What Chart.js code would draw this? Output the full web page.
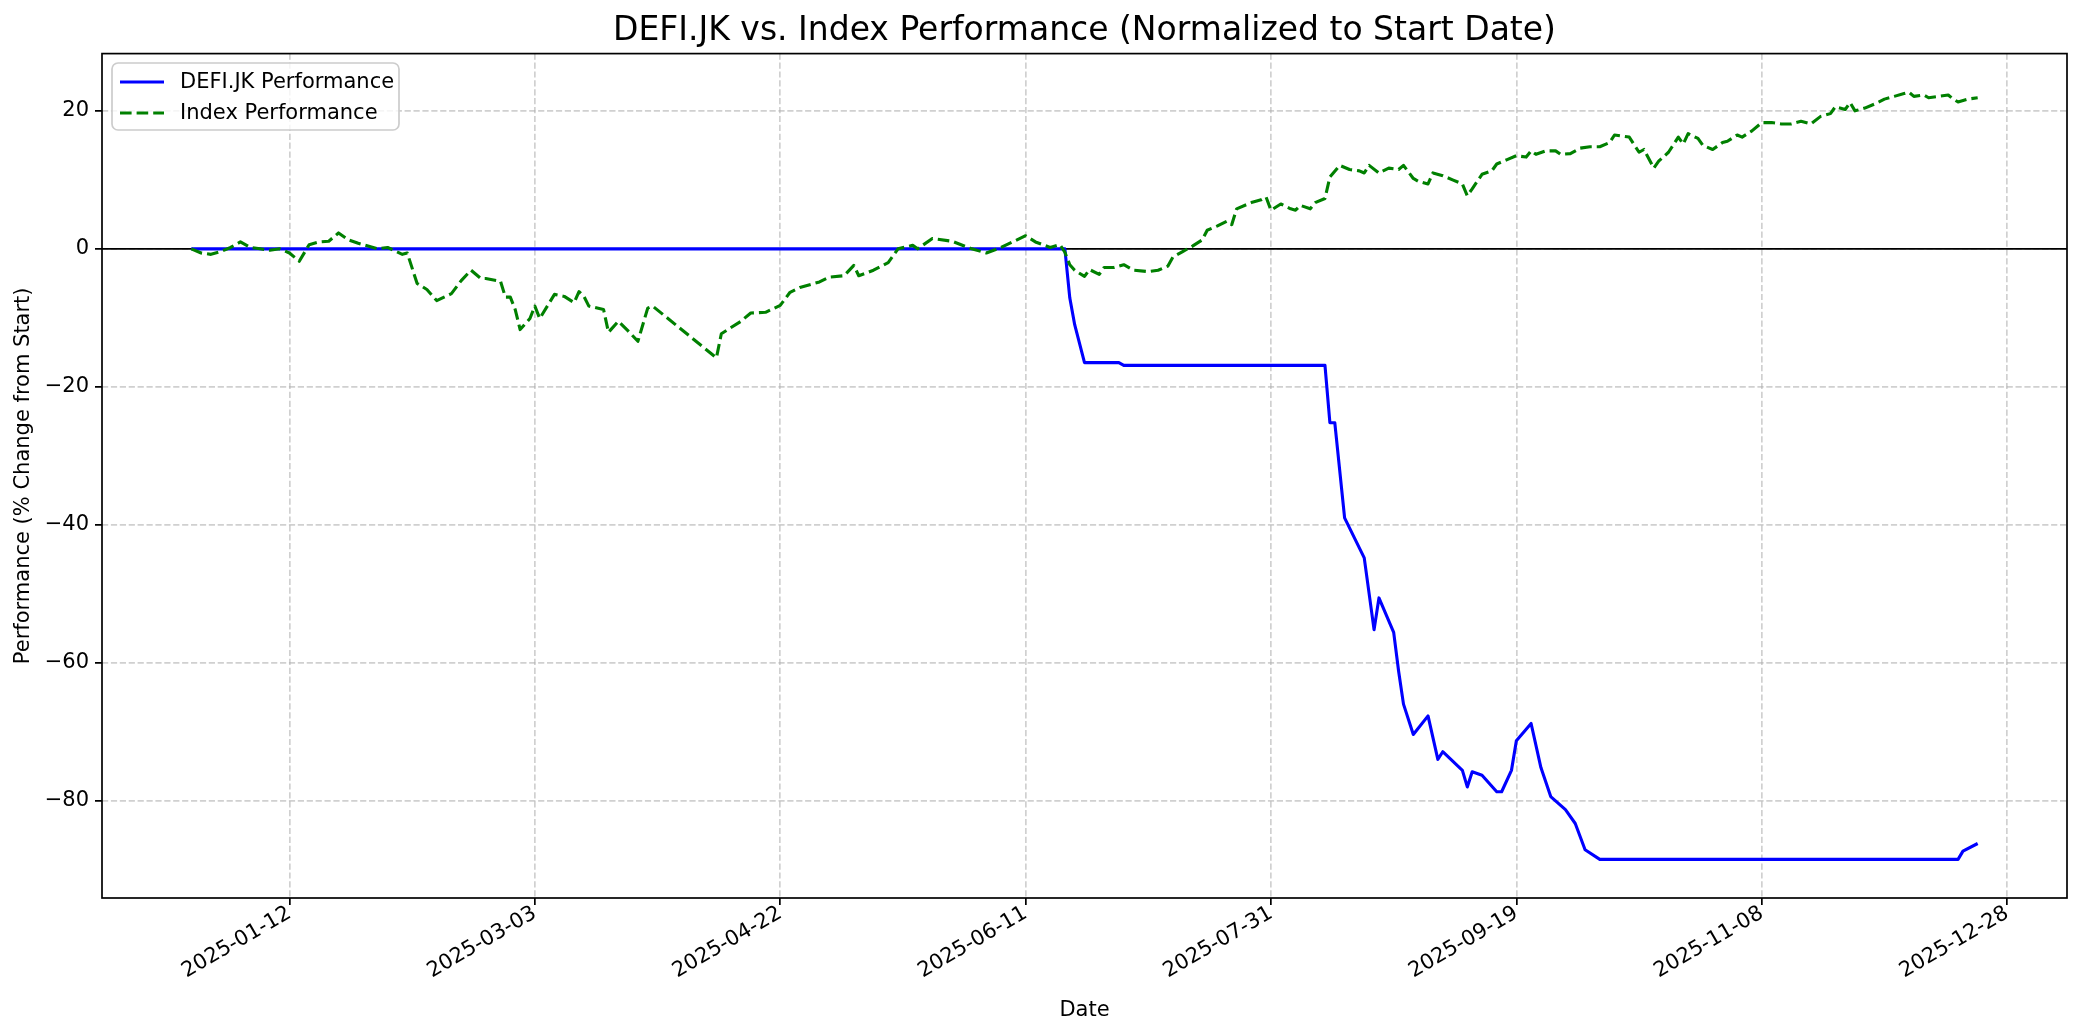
<!DOCTYPE html>
<html>
<head>
<meta charset="utf-8">
<script src="https://cdn.jsdelivr.net/npm/chart.js@4.4.1/dist/chart.umd.min.js"></script>
<style>
  body { margin: 0; background: #fff; }
  canvas { display: block; }
</style>
</head>
<body>
<canvas id="perfChart" width="2084" height="1035"></canvas>
<script>
// days counted from 2025-01-01 (negative = December 2024)
const defiDays = [-9, 169, 170, 171, 173, 180, 181, 222, 223, 224, 226, 230, 232, 233, 236, 237, 238, 240, 243, 245, 246, 250, 251, 252, 254, 257, 258, 260, 261, 264, 266, 268, 271, 273, 275, 278, 351, 352, 355];
const defiPerf = [0, 0, -7.1, -11, -16.5, -16.5, -16.9, -16.9, -25.2, -25.2, -39, -44.8, -55.2, -50.6, -55.6, -61.2, -66, -70.4, -67.7, -74, -72.9, -75.6, -78, -75.8, -76.3, -78.7, -78.7, -75.6, -71.3, -68.8, -75.2, -79.4, -81.3, -83.3, -87.1, -88.5, -88.5, -87.3, -86.2];

const indexDays = [-9, -7, -5, -3, -1, 1, 3, 5, 7, 9, 11, 13, 15, 17, 19, 21, 23, 25, 27, 29, 31, 34, 35, 37, 39, 41, 44, 46, 48, 50, 51, 54, 55, 56, 57, 58, 60, 61, 62, 65, 67, 69, 70, 71, 72, 75, 76, 78, 80, 82, 84, 85, 98, 99, 103, 105, 108, 111, 113, 115, 119, 121, 124, 126, 127, 130, 133, 135, 138, 139, 142, 146, 150, 153, 156, 161, 163, 166, 168, 169, 170, 171, 173, 174, 176, 177, 179, 181, 183, 186, 188, 190, 191, 193, 195, 197, 198, 200, 202, 203, 204, 207, 209, 210, 211, 213, 215, 216, 217, 219, 220, 222, 223, 225, 227, 229, 230, 231, 233, 235, 237, 238, 240, 241, 243, 244, 246, 248, 250, 251, 252, 254, 256, 257, 259, 261, 263, 264, 265, 267, 269, 270, 272, 274, 276, 278, 280, 281, 284, 286, 287, 289, 290, 292, 294, 295, 296, 298, 299, 301, 303, 304, 306, 307, 309, 311, 313, 315, 317, 319, 321, 323, 325, 326, 328, 329, 330, 332, 334, 336, 338, 340, 341, 342, 344, 345, 347, 349, 350, 351, 353, 355];
const indexPerf = [0, -0.6, -0.8, -0.4, 0.2, 1.0, 0.2, 0, -0.2, 0, -0.6, -1.8, 0.6, 1.0, 1.1, 2.3, 1.3, 0.8, 0.4, 0, 0.2, -0.8, -0.6, -5.0, -5.9, -7.5, -6.5, -4.6, -3.1, -4.3, -4.3, -4.7, -7.0, -7.0, -8.8, -11.7, -10.1, -8.3, -10.1, -6.6, -6.9, -7.8, -6.2, -6.9, -8.3, -8.8, -12.1, -10.5, -11.9, -13.4, -8.6, -8.3, -15.8, -12.3, -10.5, -9.3, -9.2, -8.2, -6.3, -5.6, -4.8, -4.1, -3.9, -2.4, -3.9, -3.1, -2.0, 0, 0.5, 0, 1.5, 1.1, 0, -0.6, 0.2, 1.9, 1.0, 0.2, 0.6, -0.5, -2.3, -3.1, -4.0, -3.0, -3.7, -2.7, -2.7, -2.3, -3.1, -3.3, -3.1, -2.5, -1.2, -0.4, 0.4, 1.3, 2.7, 3.3, 4.0, 3.5, 5.8, 6.7, 7.1, 7.5, 5.6, 6.5, 5.8, 5.6, 6.3, 5.8, 6.7, 7.3, 10.4, 12.1, 11.5, 11.3, 11.0, 12.1, 11.0, 11.7, 11.5, 12.1, 10.2, 9.8, 9.4, 11.0, 10.6, 10.0, 9.4, 7.7, 8.7, 10.8, 11.3, 12.3, 12.9, 13.5, 13.3, 14.2, 13.7, 14.2, 14.2, 13.7, 13.8, 14.6, 14.8, 14.8, 15.4, 16.5, 16.2, 14.0, 14.4, 11.7, 12.7, 14.0, 16.2, 15.2, 16.7, 16.0, 15.0, 14.4, 15.4, 15.6, 16.5, 16.2, 17.1, 18.3, 18.3, 18.1, 18.1, 18.5, 18.1, 19.2, 19.6, 20.6, 20.2, 21.2, 20.0, 20.4, 21.0, 21.7, 22.1, 22.5, 22.7, 22.1, 22.3, 21.9, 22.1, 22.3, 21.7, 21.3, 21.7, 21.9];

const xTickLabels = ['2025-01-12', '2025-03-03', '2025-04-22', '2025-06-11', '2025-07-31', '2025-09-19', '2025-11-08', '2025-12-28'];
const yTicks = [-80, -60, -40, -20, 0, 20];

const FONT = "'DejaVu Sans', 'Liberation Sans', sans-serif";

function dayOf(str) {
  const p = str.split('-').map(Number);
  return (Date.UTC(p[0], p[1] - 1, p[2]) - Date.UTC(2025, 0, 1)) / 86400000;
}
const xTickDays = xTickLabels.map(dayOf);

const frameAndLegend = {
  id: 'frameAndLegend',
  beforeDatasetsDraw(chart) {
    const { ctx, chartArea: a, scales } = chart;
    const y0 = scales.y.getPixelForValue(0);
    ctx.save();
    ctx.strokeStyle = '#000';
    ctx.lineWidth = 1.7;
    ctx.beginPath();
    ctx.moveTo(a.left, y0);
    ctx.lineTo(a.right, y0);
    ctx.stroke();
    ctx.restore();
  },
  afterDraw(chart) {
    const { ctx, chartArea: a } = chart;
    ctx.save();
    ctx.strokeStyle = '#000';
    ctx.lineWidth = 1.7;
    ctx.strokeRect(a.left, a.top, a.right - a.left, a.bottom - a.top);

    // legend box
    const bx = 112, by = 63, bw = 287, bh = 67, r = 6;
    ctx.beginPath();
    ctx.roundRect(bx, by, bw, bh, r);
    ctx.fillStyle = 'rgba(255,255,255,0.8)';
    ctx.fill();
    ctx.strokeStyle = '#cccccc';
    ctx.lineWidth = 1.7;
    ctx.stroke();

    const items = [
      { text: 'DEFI.JK Performance', color: 'blue', dash: [], y: 82 },
      { text: 'Index Performance', color: 'green', dash: [11.6, 5], y: 113 }
    ];
    ctx.font = '21px ' + FONT;
    ctx.textBaseline = 'middle';
    items.forEach(it => {
      ctx.beginPath();
      ctx.setLineDash(it.dash);
      ctx.strokeStyle = it.color;
      ctx.lineWidth = 3.1;
      ctx.moveTo(120, it.y);
      ctx.lineTo(164, it.y);
      ctx.stroke();
      ctx.setLineDash([]);
      ctx.fillStyle = '#000';
      ctx.fillText(it.text, 180, it.y + 1);
    });
    ctx.restore();
  }
};

new Chart(document.getElementById('perfChart'), {
  type: 'line',
  data: {
    datasets: [{
      label: 'DEFI.JK Performance',
      data: defiDays.map((d, i) => ({ x: d, y: defiPerf[i] })),
      borderColor: 'blue',
      borderWidth: 3.1,
      pointRadius: 0,
      tension: 0,
      borderJoinStyle: 'round',
      order: 2
    }, {
      label: 'Index Performance',
      data: indexDays.map((d, i) => ({ x: d, y: indexPerf[i] })),
      borderColor: 'green',
      borderWidth: 3.1,
      borderDash: [11.6, 5],
      pointRadius: 0,
      tension: 0,
      borderJoinStyle: 'round',
      order: 1
    }]
  },
  options: {
    responsive: false,
    animation: false,
    devicePixelRatio: 1,
    layout: {
      padding: { top: 0, right: 17, bottom: 0, left: 0 }
    },
    plugins: {
      legend: { display: false },
      tooltip: { enabled: false },
      title: {
        display: true,
        fullSize: false,
        text: 'DEFI.JK vs. Index Performance (Normalized to Start Date)',
        color: '#000',
        font: { family: FONT, size: 33, weight: 'normal' },
        padding: { top: 12, bottom: 2 }
      }
    },
    scales: {
      x: {
        type: 'linear',
        min: -27.2,
        max: 373.2,
        afterBuildTicks: (scale) => {
          scale.ticks = xTickDays.map(v => ({ value: v }));
        },
        afterFit: (scale) => { scale.height = 137; },
        ticks: {
          autoSkip: false,
          maxRotation: 30,
          minRotation: 30,
          padding: -4,
          color: '#000',
          font: { family: FONT, size: 21 },
          callback: (val, i) => xTickLabels[i]
        },
        grid: {
          color: 'rgba(176,176,176,0.6)',
          lineWidth: 1.7,
          tickLength: 7,
          tickColor: '#000',
          tickWidth: 1.7,
          tickBorderDash: [1, 0]
        },
        border: { display: false, dash: [6.2, 2.7] },
        title: {
          display: true,
          text: 'Date',
          color: '#000',
          font: { family: FONT, size: 21 },
          padding: { top: 4, bottom: 12 }
        }
      },
      y: {
        min: -94.1,
        max: 28.3,
        afterBuildTicks: (scale) => {
          scale.ticks = yTicks.map(v => ({ value: v }));
        },
        afterFit: (scale) => { scale.width = 102; },
        ticks: {
          padding: 6,
          color: '#000',
          font: { family: FONT, size: 21 },
          callback: (val) => (val < 0 ? '\u2212' + Math.abs(val) : String(val))
        },
        grid: {
          color: 'rgba(176,176,176,0.6)',
          lineWidth: 1.7,
          tickLength: 7,
          tickColor: '#000',
          tickWidth: 1.7,
          tickBorderDash: [1, 0]
        },
        border: { display: false, dash: [6.2, 2.7] },
        title: {
          display: true,
          text: 'Performance (% Change from Start)',
          color: '#000',
          font: { family: FONT, size: 21 },
          padding: { top: 11, bottom: 0 }
        }
      }
    }
  },
  plugins: [frameAndLegend]
});
</script>
</body>
</html>
